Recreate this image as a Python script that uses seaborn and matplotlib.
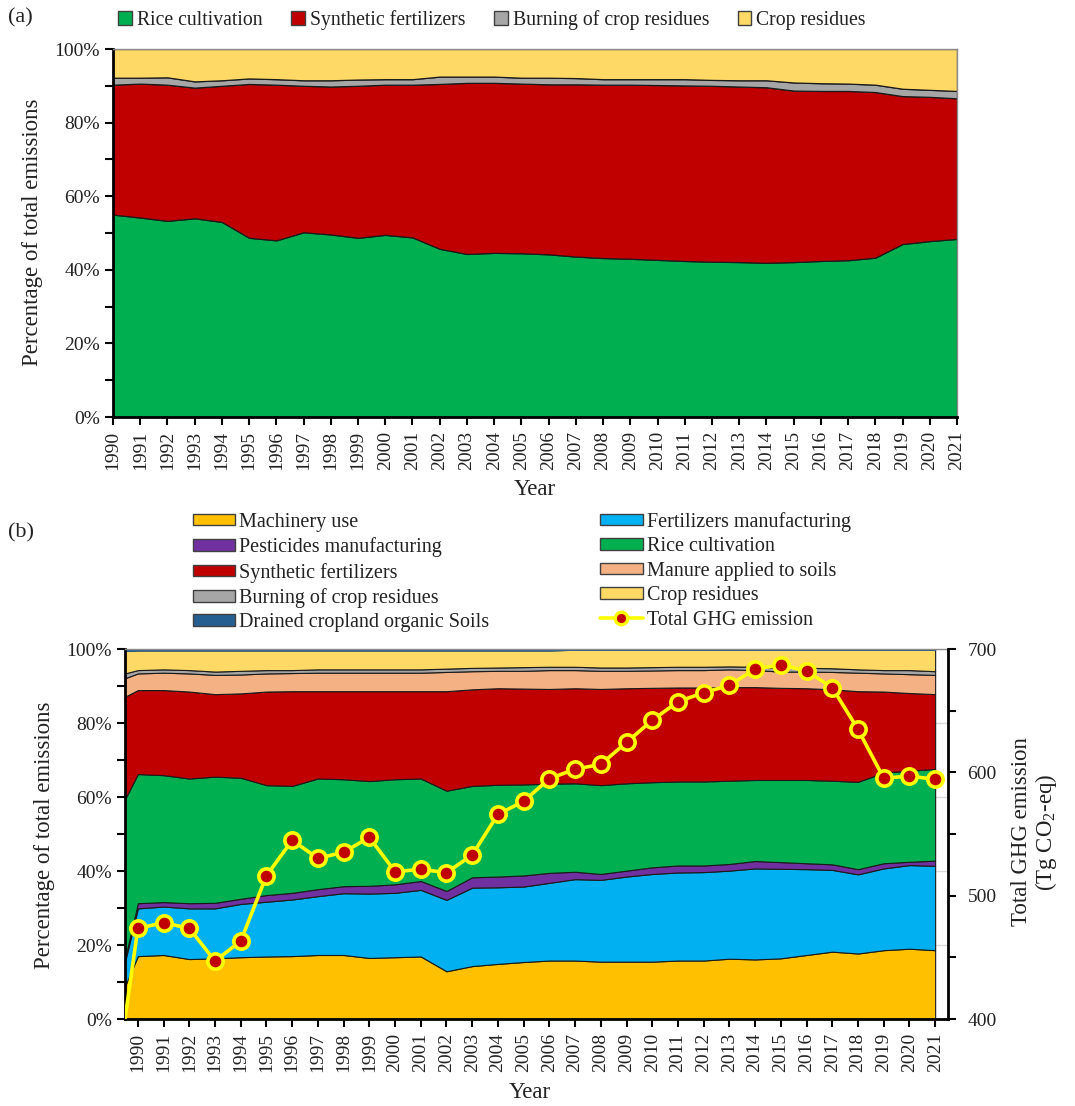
import numpy as np
import pandas as pd
import matplotlib
matplotlib.use("Agg")
import matplotlib.pyplot as plt
import seaborn as sns
from matplotlib.patches import Patch
from matplotlib.lines import Line2D
from matplotlib.ticker import MultipleLocator, PercentFormatter

years = list(range(1990, 2022))

# ---- panel (a): share of total emissions, %
a_rice = [55.0, 54.2, 53.3, 54.0, 53.0, 48.7, 48.0, 50.2, 49.6, 48.7, 49.5, 48.8, 45.7, 44.3, 44.6, 44.5,
          44.2, 43.6, 43.2, 43.0, 42.7, 42.4, 42.2, 42.1, 41.9, 42.1, 42.4, 42.6, 43.3, 47.0, 47.8, 48.4]
a_synth = [35.3, 36.4, 37.0, 35.5, 37.0, 41.8, 42.3, 39.8, 40.2, 41.3, 40.8, 41.5, 44.8, 46.5, 46.2, 46.1,
           46.2, 46.8, 47.1, 47.3, 47.5, 47.7, 47.8, 47.7, 47.7, 46.6, 46.2, 46.0, 45.0, 40.2, 39.2, 38.2]
a_burn = [1.9, 1.6, 2.0, 1.7, 1.5, 1.5, 1.5, 1.5, 1.7, 1.7, 1.5, 1.5, 2.0, 1.7, 1.7, 1.6,
          1.8, 1.7, 1.5, 1.5, 1.6, 1.7, 1.6, 1.7, 1.9, 2.2, 2.1, 2.0, 2.0, 2.0, 1.9, 2.0]
a_crop = [7.8, 7.8, 7.7, 8.8, 8.5, 8.0, 8.2, 8.5, 8.5, 8.3, 8.2, 8.2, 7.5, 7.5, 7.5, 7.8,
          7.8, 7.9, 8.2, 8.2, 8.2, 8.2, 8.4, 8.5, 8.5, 9.1, 9.3, 9.4, 9.7, 10.8, 11.1, 11.4]

# ---- panel (b): first value is the left edge of the plot (x = 1989.5)
b_x = [1989.5] + years
b_mach = [8.9, 17.0, 17.3, 16.2, 16.4, 16.7, 16.9, 17.0, 17.3, 17.3, 16.5, 16.7, 16.9, 12.9, 14.3, 14.9, 15.4,
          15.8, 15.8, 15.5, 15.5, 15.5, 15.8, 15.8, 16.3, 16.1, 16.4, 17.3, 18.2, 17.7, 18.6, 19.0, 18.6]
b_fert = [6.6, 12.9, 13.1, 13.7, 13.5, 14.4, 14.8, 15.3, 15.9, 16.7, 17.4, 17.4, 18.0, 19.3, 21.2, 20.7, 20.4,
          21.0, 22.0, 22.1, 23.0, 23.7, 23.8, 23.9, 23.8, 24.6, 24.2, 23.2, 22.1, 21.4, 22.1, 22.6, 22.8]
b_pest = [0.8, 1.4, 1.2, 1.4, 1.5, 1.4, 1.8, 1.8, 1.9, 1.9, 2.1, 2.3, 2.4, 2.4, 2.8, 2.9, 3.0,
          2.7, 2.0, 1.6, 1.6, 1.8, 1.9, 1.8, 1.8, 2.0, 1.8, 1.6, 1.5, 1.4, 1.4, 0.9, 1.4]
b_rice = [43.1, 34.9, 34.3, 33.7, 34.1, 32.7, 29.7, 28.9, 29.9, 28.9, 28.3, 28.4, 27.7, 27.1, 24.7, 24.8, 24.6,
          24.1, 23.9, 24.0, 23.6, 23.0, 22.7, 22.7, 22.5, 21.9, 22.2, 22.5, 22.6, 23.6, 24.5, 24.6, 24.8]
b_synth = [27.7, 22.7, 23.0, 23.5, 22.3, 22.8, 25.3, 25.6, 23.6, 23.8, 24.3, 23.8, 23.6, 26.9, 26.1, 26.1, 25.9,
           25.6, 25.7, 26.0, 25.7, 25.5, 25.4, 25.4, 25.3, 25.1, 24.9, 24.8, 24.7, 24.5, 21.9, 21.0, 20.2]
b_manure = [5.0, 4.5, 4.7, 4.9, 5.2, 5.1, 4.9, 4.9, 5.0, 5.0, 5.0, 5.0, 5.0, 5.2, 4.9, 4.7, 4.8,
            5.1, 4.9, 4.9, 4.7, 4.7, 4.7, 4.7, 4.8, 4.6, 4.4, 4.5, 4.7, 5.0, 4.9, 5.1, 5.2]
b_burn = [1.3, 0.9, 0.9, 0.9, 0.9, 1.0, 0.9, 0.8, 0.9, 0.9, 0.9, 0.9, 0.9, 0.9, 0.9, 0.9, 1.0,
          0.9, 0.9, 0.9, 0.9, 0.9, 0.9, 0.9, 0.8, 0.9, 1.0, 1.0, 1.0, 0.9, 0.9, 1.1, 1.0]
b_crop = [6.1, 5.3, 5.1, 5.3, 5.7, 5.5, 5.3, 5.3, 5.1, 5.1, 5.1, 5.1, 5.1, 4.9, 4.7, 4.6, 4.5,
          4.4, 4.6, 4.8, 4.8, 4.7, 4.6, 4.6, 4.5, 4.6, 4.9, 4.9, 5.0, 5.3, 5.5, 5.5, 5.8]
b_drained = [0.5, 0.4, 0.4, 0.4, 0.4, 0.4, 0.4, 0.4, 0.4, 0.4, 0.4, 0.4, 0.4, 0.4, 0.4, 0.4, 0.4,
             0.4, 0.2, 0.2, 0.2, 0.2, 0.2, 0.2, 0.2, 0.2, 0.2, 0.2, 0.2, 0.2, 0.2, 0.2, 0.2]
total_ghg = [400.0, 473.5, 478.1, 473.5, 447.0, 463.2, 516.2, 544.9, 530.3, 535.2, 547.3, 519.4, 521.4, 518.6,
             533.0, 566.0, 576.5, 594.9, 602.5, 606.5, 624.3, 642.2, 657.3, 664.6, 670.5, 683.8, 687.0,
             682.2, 668.6, 634.9, 595.2, 597.0, 594.3]

a_names = ["Rice cultivation", "Synthetic fertilizers", "Burning of crop residues", "Crop residues"]
a_colors = ["#00B050", "#C00000", "#A6A6A6", "#FFD966"]

b_names = ["Machinery use", "Fertilizers manufacturing", "Pesticides manufacturing", "Rice cultivation",
           "Synthetic fertilizers", "Manure applied to soils", "Burning of crop residues", "Crop residues",
           "Drained cropland organic Soils"]
b_colors = ["#FFC000", "#00B0F0", "#7030A0", "#00B050", "#C00000", "#F4B183", "#A6A6A6", "#FFD966", "#255E91"]

df_a = pd.DataFrame({"Year": years, a_names[0]: a_rice, a_names[1]: a_synth,
                     a_names[2]: a_burn, a_names[3]: a_crop})
df_b = pd.DataFrame({"x": b_x, b_names[0]: b_mach, b_names[1]: b_fert, b_names[2]: b_pest,
                     b_names[3]: b_rice, b_names[4]: b_synth, b_names[5]: b_manure,
                     b_names[6]: b_burn, b_names[7]: b_crop, b_names[8]: b_drained,
                     "Total": total_ghg})

sns.set_theme(style="ticks")
plt.rcParams['font.family'] = ['Liberation Serif', 'DejaVu Serif']
plt.rcParams['mathtext.fontset'] = 'custom'
plt.rcParams['mathtext.rm'] = 'Liberation Serif'
plt.rcParams['text.color'] = '#222222'

W, H = 1075, 1106
fig = plt.figure(figsize=(W / 100, H / 100), dpi=100)


def fbox(l, t, r, b):
    return [l / W, 1 - b / H, (r - l) / W, (b - t) / H]


def style_pct_axis(ax):
    ax.set_ylim(0, 100)
    ax.yaxis.set_major_locator(MultipleLocator(20))
    ax.yaxis.set_minor_locator(MultipleLocator(10))
    ax.yaxis.set_major_formatter(PercentFormatter(decimals=0))
    ax.set_xticks(years)
    ax.set_xticklabels([str(y) for y in years], rotation=90)
    ax.tick_params(axis='both', which='both', direction='out', length=6, width=1.5,
                   colors='black', labelsize=14, labelcolor='#222222')
    ax.tick_params(axis='x', pad=4)
    for s in ['left', 'bottom']:
        ax.spines[s].set_color('black')
        ax.spines[s].set_linewidth(2)
    for s in ['top', 'right']:
        ax.spines[s].set_color('#8c8c8c')
        ax.spines[s].set_linewidth(1)
    ax.set_xlabel('')
    ax.set_ylabel('')


# ---------------- panel (a)
ax_a = fig.add_axes(fbox(113, 49, 957, 417))
polys = ax_a.stackplot(df_a["Year"], *[df_a[n] for n in a_names], colors=a_colors,
                       edgecolor='#1a1a1a', linewidth=0.9)
ax_a.set_xlim(1990, 2021)
style_pct_axis(ax_a)

handles_a = [Patch(facecolor=c, edgecolor='#404040', linewidth=1) for c in a_colors]
fig.legend(handles_a, a_names, loc='center left', bbox_to_anchor=(118 / W, 1 - 20 / H), ncol=4,
           frameon=False, fontsize=14.2, handlelength=0.7, handleheight=0.7, handletextpad=0.25,
           columnspacing=1.45, borderpad=0, borderaxespad=0)

fig.text(8 / W, 1 - 18 / H, "(a)", fontsize=16, va='center', ha='left')
fig.text(33 / W, 1 - 232 / H, "Percentage of total emissions", rotation=90, fontsize=16.5,
         va='center', ha='center')
fig.text(535 / W, 1 - 490 / H, "Year", fontsize=16.5, va='center', ha='center')

# ---------------- panel (b)
ax_b = fig.add_axes(fbox(125, 649, 948, 1019))
ax_b.yaxis.grid(True, color='#d9d9d9', linewidth=1)
ax_b.set_axisbelow(True)
polys_b = ax_b.stackplot(df_b["x"], *[df_b[n] for n in b_names], colors=b_colors,
                         edgecolor='#1a1a1a', linewidth=0.8)
polys_b[-1].set_edgecolor(b_colors[-1])
ax_b.set_xlim(1989.5, 2021.5)
style_pct_axis(ax_b)
ax_b.spines['right'].set_visible(False)

ax_r = ax_b.twinx()
sns.lineplot(data=df_b, x="x", y="Total", ax=ax_r, color='#FFFF00', linewidth=2.6,
             marker='o', markersize=11, markerfacecolor='#C00000', markeredgecolor='#FFFF00',
             markeredgewidth=2.6, markevery=list(range(1, len(b_x))), legend=False)
ax_r.set_ylim(400, 700)
ax_r.set_xlim(1989.5, 2021.5)
ax_r.yaxis.set_major_locator(MultipleLocator(100))
ax_r.yaxis.set_minor_locator(MultipleLocator(50))
ax_r.tick_params(axis='y', which='both', direction='out', length=6, width=1.5, colors='black',
                 labelsize=14, labelcolor='#222222', pad=8)
for s in ['left', 'top', 'bottom']:
    ax_r.spines[s].set_visible(False)
ax_r.spines['right'].set_color('black')
ax_r.spines['right'].set_linewidth(2)
ax_r.set_xlabel('')
ax_r.set_ylabel('')

handles_b = [Patch(facecolor=c, edgecolor='#404040', linewidth=1) for c in b_colors]
line_h = Line2D([], [], color='#FFFF00', linewidth=2.6, marker='o', markersize=9,
                markerfacecolor='#C00000', markeredgecolor='#FFFF00', markeredgewidth=2.4)
all_h = handles_b + [line_h]
all_l = b_names + ["Total GHG emission"]
# legend fills column by column: left column gets the even entries
order = [0, 2, 4, 6, 8, 1, 3, 5, 7, 9]
fig.legend([all_h[i] for i in order], [all_l[i] for i in order], loc='upper left',
           bbox_to_anchor=(193 / W, 1 - 512 / H), ncol=2, frameon=False, fontsize=14.5,
           handlelength=2.1, handleheight=0.5, handletextpad=0.2, labelspacing=0.27,
           columnspacing=5.5, borderpad=0, borderaxespad=0)

fig.text(8 / W, 1 - 533 / H, "(b)", fontsize=16, va='center', ha='left')
fig.text(45 / W, 1 - 835 / H, "Percentage of total emissions", rotation=90, fontsize=16.5,
         va='center', ha='center')
fig.text(1035 / W, 1 - 832 / H, "Total GHG emission\n(Tg CO$_2$-eq)", rotation=90, fontsize=16.5,
         va='center', ha='center', multialignment='center', linespacing=1.1)
fig.text(530 / W, 1 - 1093 / H, "Year", fontsize=16.5, va='center', ha='center')

fig.savefig("out.png", dpi=100, facecolor='white')
